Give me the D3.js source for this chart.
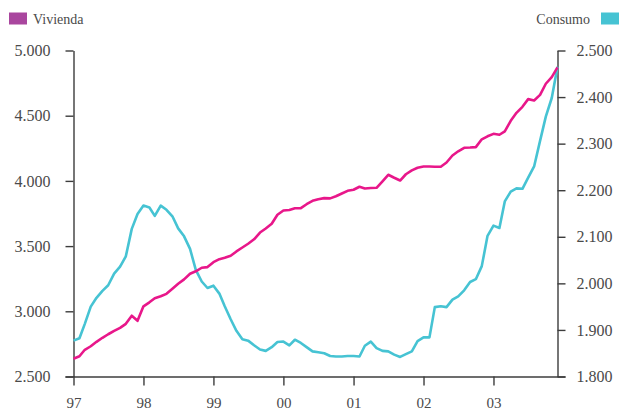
<!DOCTYPE html>
<html>
<head>
<meta charset="utf-8">
<script src="https://cdn.jsdelivr.net/npm/d3@7"></script>
<style>
  html, body { margin: 0; padding: 0; background: #fff; }
  svg { display: block; }
  text { font-family: "Liberation Serif", "DejaVu Serif", serif; fill: #4a4a4a; }
</style>
</head>
<body>
<svg id="chart" width="619" height="412"></svg>
<script>
// Monthly series, January 1997 – December 2003
const startMonth = new Date(1997, 0, 1);
const endMonth = new Date(2004, 0, 1);

// Vivienda (left axis)
const vivienda = [
  2636, 2655, 2705, 2732, 2766, 2797, 2824, 2850, 2873, 2904, 2966, 2927,
  3038, 3069, 3100, 3115, 3134, 3173, 3211, 3245, 3288, 3307, 3334, 3339,
  3377, 3400, 3410, 3426, 3459, 3489, 3518, 3552, 3604, 3635, 3671, 3740,
  3773, 3777, 3790, 3791, 3821, 3847, 3860, 3868, 3866, 3882, 3903, 3924,
  3932, 3955, 3942, 3945, 3947, 3997, 4047, 4024, 4003, 4051, 4081, 4101,
  4110, 4110, 4108, 4108, 4141, 4195, 4227, 4254, 4256, 4259, 4319, 4342,
  4361, 4354, 4380, 4461, 4522, 4568, 4627, 4617, 4660, 4745, 4796, 4870
];

// Consumo (right axis)
const consumo = [
  1877, 1882, 1913, 1950, 1969, 1984, 1996, 2021, 2036, 2058, 2117, 2149,
  2167, 2163, 2145, 2167, 2158, 2144, 2118, 2101, 2074, 2029, 2004, 1990,
  1995, 1978, 1951, 1923, 1898, 1880, 1877, 1867, 1858, 1855, 1863, 1874,
  1875, 1867, 1879, 1872, 1863, 1854, 1852, 1850, 1844, 1843, 1843, 1844,
  1844, 1843, 1866, 1875, 1861, 1855, 1854, 1847, 1842, 1848, 1854, 1876,
  1884, 1884, 1949, 1951, 1949, 1965, 1972, 1985, 2003, 2009, 2037, 2102,
  2124, 2119, 2176, 2197, 2204, 2203, 2227, 2251, 2306, 2358, 2398, 2465
];

const leftTicks = [2500, 3000, 3500, 4000, 4500, 5000];
const rightTicks = [1800, 1900, 2000, 2100, 2200, 2300, 2400, 2500];
const yearTicks = [1997, 1998, 1999, 2000, 2001, 2002, 2003];

const seriesNames = ["Vivienda", "Consumo"];
const lineColors = { Vivienda: "#e8178a", Consumo: "#46c3d3" };
const keyColors = { Vivienda: "#a9469e", Consumo: "#46c3d3" };

const months = d3.timeMonth.range(startMonth, endMonth);

const es = d3.formatLocale({ decimal: ",", thousands: ".", grouping: [3], currency: ["", " €"] });
const fmt = es.format(",d");

const plot = { left: 73.5, right: 557.5, top: 50.5, bottom: 376.5 };

const svg = d3.select("#chart");

const x = d3.scaleTime()
  .domain([startMonth, months[months.length - 1]])
  .range([plot.left, plot.right]);
const yL = d3.scaleLinear().domain([2500, 5000]).range([plot.bottom, plot.top]);
const yR = d3.scaleLinear().domain([1800, 2500]).range([plot.bottom, plot.top]);

const axisColor = "#3c3c3c";

// Left axis
const gL = svg.append("g").attr("transform", `translate(${plot.left},0)`)
  .call(d3.axisLeft(yL).tickValues(leftTicks).tickFormat(fmt).tickSize(8).tickSizeOuter(0).tickPadding(15));
// Right axis
const gR = svg.append("g").attr("transform", `translate(${plot.right},0)`)
  .call(d3.axisRight(yR).tickValues(rightTicks).tickFormat(fmt).tickSize(8).tickSizeOuter(0).tickPadding(11));
// Bottom axis
const gB = svg.append("g").attr("transform", `translate(0,${plot.bottom})`)
  .call(d3.axisBottom(x)
    .tickValues(yearTicks.map(yr => new Date(yr, 0, 1)))
    .tickFormat(d3.timeFormat("%y"))
    .tickSize(9).tickSizeOuter(0).tickPadding(12));

[gL, gR, gB].forEach(g => {
  g.select(".domain").attr("stroke", axisColor).attr("stroke-width", 1.4);
  g.selectAll(".tick line").attr("stroke", axisColor).attr("stroke-width", 1.4);
  g.selectAll(".tick text")
    .attr("font-family", "Liberation Serif, DejaVu Serif, serif")
    .attr("font-size", 16)
    .attr("fill", "#4a4a4a");
});
// Baseline spans the full width of the side ticks
gB.select(".domain").attr("d", `M${plot.left - 8},0.5H${plot.right + 8}`);
gB.selectAll(".tick text").attr("font-size", 15).attr("dy", "0.71em");

// Lines
const lineC = d3.line().x((d, i) => x(months[i])).y(d => yR(d));
const lineV = d3.line().x((d, i) => x(months[i])).y(d => yL(d));

svg.append("path").datum(consumo)
  .attr("d", lineC).attr("fill", "none")
  .attr("stroke", lineColors.Consumo).attr("stroke-width", 2.6)
  .attr("stroke-linejoin", "round");
svg.append("path").datum(vivienda)
  .attr("d", lineV).attr("fill", "none")
  .attr("stroke", lineColors.Vivienda).attr("stroke-width", 2.6)
  .attr("stroke-linejoin", "round");

// Legend
svg.append("rect").attr("x", 9).attr("y", 12.5).attr("width", 18).attr("height", 12)
  .attr("fill", keyColors.Vivienda);
svg.append("text").attr("x", 33).attr("y", 23.5).attr("font-size", 14)
  .text(seriesNames[0]);

svg.append("rect").attr("x", 601).attr("y", 12.5).attr("width", 18).attr("height", 12)
  .attr("fill", keyColors.Consumo);
svg.append("text").attr("x", 590).attr("y", 23.5).attr("font-size", 14)
  .attr("text-anchor", "end").text(seriesNames[1]);
</script>
</body>
</html>
